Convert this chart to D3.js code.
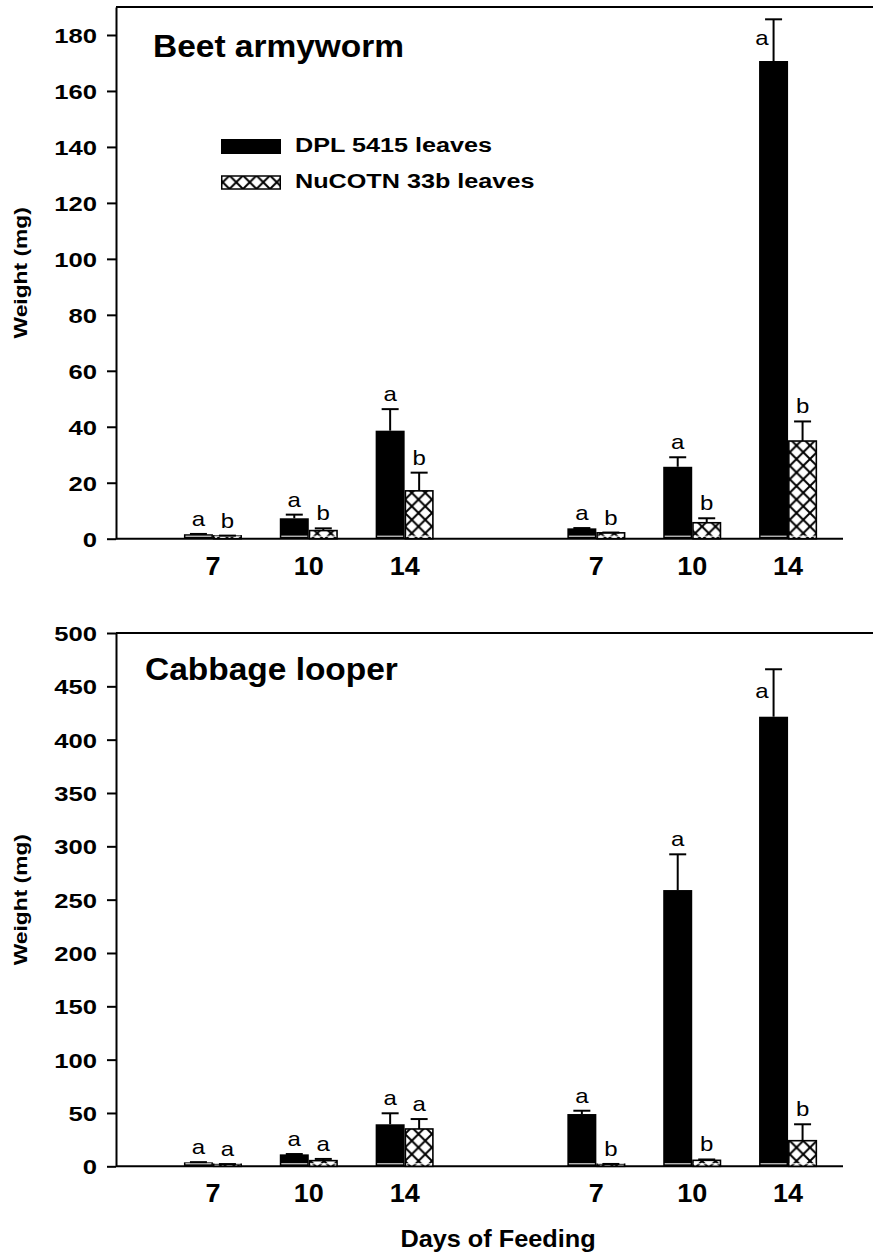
<!DOCTYPE html>
<html>
<head>
<meta charset="utf-8">
<script src="https://cdn.jsdelivr.net/npm/d3@7"></script>
<style>
  body { margin: 0; background: #fff; }
  text { font-family: Arial, "Liberation Sans", sans-serif; fill: #000; }
</style>
</head>
<body>
<svg id="chart" width="873" height="1256"></svg>
<script>
/* slots along the x axis: two sets of 7/10/14 days with an empty slot between */
var slots = ["A7", "A10", "A14", "gap", "B7", "B10", "B14"];
var dayLabels = ["7", "10", "14", "", "7", "10", "14"];
var barSlots = ["A7", "A10", "A14", "B7", "B10", "B14"];
var seriesNames = ["DPL 5415 leaves", "NuCOTN 33b leaves"];

/* beet armyworm (mg), upper error */
var beetDPL = [1.6, 7.3, 38.6, 3.7, 25.7, 170.7];
var beetDPLErr = [0.1, 1.3, 7.7, 0.1, 3.4, 14.9];
var beetNu = [1.0, 2.9, 17.1, 2.1, 5.7, 34.9];
var beetNuErr = [0.1, 0.8, 6.5, 0.1, 1.6, 7.0];
var beetDPLLetters = ["a", "a", "a", "a", "a", "a"];
var beetNuLetters = ["b", "b", "b", "b", "b", "b"];
var beetTicks = [0, 20, 40, 60, 80, 100, 120, 140, 160, 180];

/* cabbage looper (mg), upper error */
var cabDPL = [3.7, 11.2, 39.4, 49.0, 259.0, 421.5];
var cabDPLErr = [0.2, 0.3, 10.3, 3.1, 33.5, 44.5];
var cabNu = [1.9, 5.3, 35.0, 1.9, 5.6, 24.0];
var cabNuErr = [0.2, 1.6, 9.3, 0.3, 0.8, 15.4];
var cabDPLLetters = ["a", "a", "a", "a", "a", "a"];
var cabNuLetters = ["a", "a", "a", "b", "b", "b"];
var cabTicks = [0, 50, 100, 150, 200, 250, 300, 350, 400, 450, 500];

var svg = d3.select("#chart");
var defs = svg.append("defs");
var hs = 13.5;
var pat = defs.append("pattern").attr("id", "xhatch")
    .attr("patternUnits", "userSpaceOnUse")
    .attr("width", hs).attr("height", hs);
pat.append("rect").attr("width", hs).attr("height", hs).attr("fill", "#fff");
pat.append("path").attr("d", "M-1,-1L" + (hs + 1) + "," + (hs + 1) + "M" + (hs + 1) + ",-1L-1," + (hs + 1))
    .attr("stroke", "#000").attr("stroke-width", 2);

var x = d3.scaleBand().domain(slots).range([165, 836]);
var barW = 29;

// text stretched a little wider, as in the original figure
function stretch(sel, tx, ty, sx, rot) {
  sel.attr("x", 0).attr("y", 0)
    .attr("transform", "translate(" + tx + "," + ty + ")" + (rot ? " rotate(" + rot + ")" : "") + " scale(" + sx + ",1)");
  return sel;
}

function drawPanel(p) {
  var y = d3.scaleLinear().domain([0, p.max]).range([p.bottom, p.top]);
  var g = svg.append("g");

  // frame top line + x axis line
  g.append("line").attr("x1", 116).attr("x2", 873).attr("y1", y(p.max)).attr("y2", y(p.max))
    .attr("stroke", "#000").attr("stroke-width", 2);
  g.append("line").attr("x1", 116).attr("x2", 843).attr("y1", y(0)).attr("y2", y(0))
    .attr("stroke", "#000").attr("stroke-width", 2);

  // y axis
  var ya = g.append("g").attr("transform", "translate(116,0)")
    .call(d3.axisLeft(y).tickValues(p.ticks).tickSize(9).tickSizeOuter(0));
  ya.select(".domain").attr("stroke-width", 2);
  ya.selectAll(".tick line").attr("stroke-width", 2);
  ya.selectAll(".tick text").each(function() {
    d3.select(this).attr("font-size", 20.5).attr("font-weight", "bold")
      .attr("text-anchor", "end").attr("dy", "0.36em").attr("font-family", null);
    stretch(d3.select(this), -19, 0, 1.25);
  });

  // x tick labels
  var xa = g.append("g").attr("transform", "translate(0," + y(0) + ")")
    .call(d3.axisBottom(x).tickValues(barSlots).tickSize(0)
      .tickFormat(function(d) { return dayLabels[slots.indexOf(d)]; }));
  xa.select(".domain").remove();
  xa.selectAll(".tick text").each(function() {
    d3.select(this).attr("font-size", 25).attr("font-weight", "bold")
      .attr("dy", 0).attr("font-family", null);
    stretch(d3.select(this), 0, 36, 1.08);
  });

  var rows = barSlots.map(function(s, i) {
    return { cx: x(s) + x.bandwidth() / 2, dpl: p.dpl[i], dplErr: p.dplErr[i], nu: p.nu[i], nuErr: p.nuErr[i],
      dplL: p.dplLetters[i], nuL: p.nuLetters[i] };
  });
  var maxV = d3.max(p.dpl.concat(p.nu));

  var bars = [];
  rows.forEach(function(r) {
    bars.push({ x0: r.cx - barW, v: r.dpl, e: r.dplErr, l: r.dplL, hatch: false });
    bars.push({ x0: r.cx, v: r.nu, e: r.nuErr, l: r.nuL, hatch: true });
  });

  bars.forEach(function(b) {
    var c = b.x0 + barW / 2;
    if (b.hatch) {
      g.append("rect").attr("x", b.x0 + 0.75).attr("y", y(b.v)).attr("width", barW - 1.5)
        .attr("height", y(0) - y(b.v)).attr("fill", "url(#xhatch)")
        .attr("stroke", "#000").attr("stroke-width", 1.6);
    } else {
      g.append("rect").attr("x", b.x0).attr("y", y(b.v)).attr("width", barW)
        .attr("height", y(0) - y(b.v)).attr("fill", "#000");
    }
    // thin white line near the base
    g.append("line").attr("x1", b.x0 + 1.5).attr("x2", b.x0 + barW - 1.5)
      .attr("y1", y(0) - 2.5).attr("y2", y(0) - 2.5).attr("stroke", "#fff").attr("stroke-width", 1);

    // upper error bar
    g.append("line").attr("x1", c).attr("x2", c).attr("y1", y(b.v)).attr("y2", y(b.v + b.e))
      .attr("stroke", "#000").attr("stroke-width", 2);
    g.append("line").attr("x1", c - 8.5).attr("x2", c + 8.5).attr("y1", y(b.v + b.e)).attr("y2", y(b.v + b.e))
      .attr("stroke", "#000").attr("stroke-width", 2);

    var t = g.append("text").attr("font-size", 20).text(b.l);
    if (b.v === maxV) {
      t.attr("text-anchor", "end");
      stretch(t, c - 5, (y(b.v) + y(b.v + b.e)) / 2 + 5, 1.2);
    } else {
      t.attr("text-anchor", "middle");
      stretch(t, c, y(b.v + b.e) - 8, 1.2);
    }
  });

  stretch(g.append("text").attr("font-size", 31).attr("font-weight", "bold").text(p.title),
    p.titleX, p.titleY, 1.08);

  stretch(g.append("text").attr("font-size", 19).attr("font-weight", "bold")
    .attr("text-anchor", "middle").text("Weight (mg)"), 27, (p.top + p.bottom) / 2, 1.2, -90);

  if (p.legend) {
    g.append("rect").attr("x", 221).attr("y", 139).attr("width", 60).attr("height", 15).attr("fill", "#000");
    g.append("rect").attr("x", 221.75).attr("y", 176).attr("width", 58.5).attr("height", 13)
      .attr("fill", "url(#xhatch)").attr("stroke", "#000").attr("stroke-width", 1.5);
    seriesNames.forEach(function(n, i) {
      stretch(g.append("text").attr("font-size", 21).attr("font-weight", "bold").text(n),
        295, i ? 188 : 152, 1.2);
    });
  }
}

drawPanel({ top: 7, bottom: 538.7, max: 190, ticks: beetTicks, title: "Beet armyworm", titleX: 153, titleY: 57,
  dpl: beetDPL, dplErr: beetDPLErr, nu: beetNu, nuErr: beetNuErr,
  dplLetters: beetDPLLetters, nuLetters: beetNuLetters, legend: true });

drawPanel({ top: 633, bottom: 1166.3, max: 500, ticks: cabTicks, title: "Cabbage looper", titleX: 145, titleY: 680,
  dpl: cabDPL, dplErr: cabDPLErr, nu: cabNu, nuErr: cabNuErr,
  dplLetters: cabDPLLetters, nuLetters: cabNuLetters, legend: false });

stretch(svg.append("text").attr("font-size", 23).attr("font-weight", "bold")
  .attr("text-anchor", "middle").text("Days of Feeding"), 498, 1247, 1.1);
</script>
</body>
</html>
